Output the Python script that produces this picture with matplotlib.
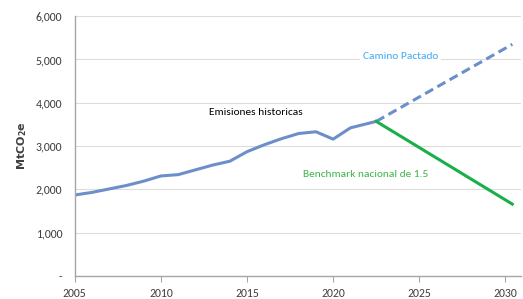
import matplotlib.pyplot as plt

# Datos (MtCO2e)
hist_years = [2005, 2006, 2007, 2008, 2009, 2010, 2011, 2012, 2013, 2014,
              2015, 2016, 2017, 2018, 2019, 2020, 2021, 2022.5]
hist_vals = [1870, 1930, 2010, 2090, 2190, 2310, 2340, 2450, 2560, 2650,
             2870, 3030, 3170, 3290, 3330, 3160, 3420, 3570]

pactado_years = [2022.5, 2030.4]
pactado_vals = [3570, 5350]

bench_years = [2022.5, 2030.4]
bench_vals = [3570, 1660]

x_ticks = [2005, 2010, 2015, 2020, 2025, 2030]
y_ticks = [0, 1000, 2000, 3000, 4000, 5000, 6000]
y_labels = ['-', '1,000', '2,000', '3,000', '4,000', '5,000', '6,000']

plt.rcParams['font.family'] = ['Carlito', 'DejaVu Sans']

fig = plt.figure(figsize=(5.23, 2.99), dpi=100)
ax = fig.add_axes([0.143, 0.077, 0.853, 0.869])

azul = '#6d8fc9'
verde = '#1aaf4b'

ax.plot(hist_years, hist_vals, color=azul, lw=2.2, solid_capstyle='butt')
ax.plot(pactado_years, pactado_vals, color=azul, lw=2.2, ls=(0, (3, 1.6)))
ax.plot(bench_years, bench_vals, color=verde, lw=2.2)

ax.set_xlim(2005, 2030.9)
ax.set_ylim(0, 6000)
ax.set_xticks(x_ticks)
ax.set_yticks(y_ticks)
ax.set_yticklabels(y_labels)

ax.grid(axis='y', color='#dcdcdc', lw=0.8)
ax.set_axisbelow(True)
for s in ['top', 'right']:
    ax.spines[s].set_visible(False)
for s in ['left', 'bottom']:
    ax.spines[s].set_color('#a6a6a6')
    ax.spines[s].set_linewidth(1)

ax.tick_params(axis='y', length=0, labelsize=8.5, labelcolor='#404040', pad=9)
ax.tick_params(axis='x', length=4, color='#a6a6a6', labelsize=8.5,
               labelcolor='#404040', pad=5)

ax.set_ylabel(r'MtCO$_\mathbf{2}$e', fontsize=8, fontweight='bold',
              color='#404040', labelpad=5, family='DejaVu Sans')

ax.text(2023.9, 5060, 'Camino Pactado', color='#3fa9f5', fontsize=8.2,
        ha='center', va='center',
        bbox=dict(facecolor='white', edgecolor='none', pad=2))
ax.text(2015.5, 3780, 'Emisiones historicas', color='black', fontsize=8.2,
        ha='center', va='center')
ax.text(2021.9, 2340, 'Benchmark nacional de 1.5', color='#3cb54a',
        fontsize=8.2, ha='center', va='center')

fig.savefig('out.png', dpi=100)
